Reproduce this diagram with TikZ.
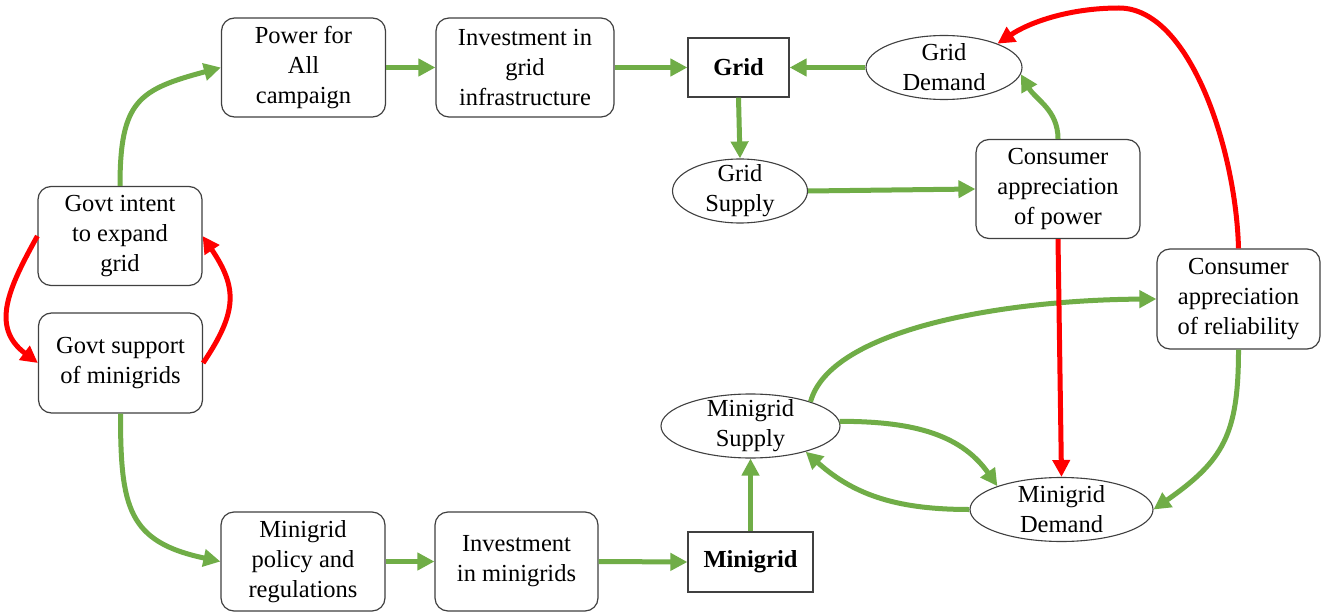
\documentclass[tikz,border=0pt]{standalone}
\usepackage{fontspec}
\setmainfont{Liberation Serif}
\newfontfamily\tnr{Liberation Serif}
\usetikzlibrary{arrows.meta,shapes.geometric}
\definecolor{grn}{HTML}{70AD47}
\definecolor{rd}{HTML}{FF0000}
\definecolor{bord}{HTML}{404040}
\begin{document}
\begin{tikzpicture}[x=1pt,y=-1pt,
  txt/.style={font=\tnr\fontsize{24.5}{30}\selectfont, align=center, inner sep=0pt},
  rbox/.style={txt, draw=bord, line width=1.2pt, rounded corners=13pt, minimum width=164pt, minimum height=99pt},
  sqbox/.style={txt, draw=bord, line width=1.2pt, minimum height=60pt},
  ell/.style={draw=bord, line width=1.1pt, ellipse, minimum height=64pt, inner sep=0pt},
  ga/.style={draw=grn, line width=5pt, -{Triangle[length=17pt,width=17pt]}},
  ra/.style={draw=rd, line width=5pt, -{Triangle[length=17pt,width=17pt]}},
]
\fill[white] (0,0) rectangle (1321,612);
\useasboundingbox (0,0) rectangle (1321,612);

% nodes
\node[rbox] (pfa) at (303.5,67.5) {Power for\\All\\campaign};
\node[rbox, minimum width=178pt] (igi) at (525,67.5) {Investment in\\grid\\infrastructure};
\node[sqbox, minimum width=101pt, minimum height=59pt] (grid) at (738.5,67.5) {\textbf{Grid}};
\node[ell, minimum width=156pt] (gd) at (944,67.5) {};
\node[txt] (gdt) at (gd) {Grid\\Demand};
\node[ell, minimum width=135pt] (gsup) at (740,191) {};
\node[txt] (gsupt) at (gsup) {Grid\\Supply};
\node[rbox] (cap) at (1058,189) {Consumer\\appreciation\\of power};
\node[rbox, minimum width=163pt, minimum height=100pt] (car) at (1238.5,299) {Consumer\\appreciation\\of reliability};
\node[rbox] (gi) at (120,236) {Govt intent\\to expand\\grid};
\node[rbox, minimum height=100pt] (gs) at (120.5,363) {Govt support\\of minigrids};
\node[rbox] (mpr) at (303,561.5) {Minigrid\\policy and\\regulations};
\node[rbox, minimum width=163pt] (im) at (516.5,561.5) {Investment\\in minigrids};
\node[sqbox, minimum width=125pt] (mg) at (750.5,562) {\textbf{Minigrid}};
\node[ell, minimum width=179pt] (msup) at (750.5,426) {};
\node[txt] (msupt) at (msup) {Minigrid\\Supply};
\node[ell, minimum width=183pt] (mdem) at (1061.5,509.5) {};
\node[txt] (mdemt) at (mdem) {Minigrid\\Demand};

% green connectors
\draw[ga] (gi.north) to[out=90,in=195,looseness=1.4] (pfa.west);
\draw[ga] (pfa.east) -- (igi.west);
\draw[ga] (igi.east) -- (grid.west);
\draw[ga] (gd.west) -- (grid.east);
\draw[ga] (grid.south) -- (gsup.north);
\draw[ga] (gsup.east) -- (cap.west);
\draw[ga] (cap.north) to[out=90,in=-60] (gd.-5);
\draw[ga] (msup.22) .. controls (830,330) and (1000,300) .. (car.west);
\draw[ga] (msup.3) to[out=0,in=125] (mdem.160);
\draw[ga] (mdem.west) to[out=180,in=-42] (msup.-25);
\draw[ga] (car.south) to[out=-90,in=35,looseness=1.2] (mdem.east);
\draw[ga] (mg.north) -- (msup.south);
\draw[ga] (im.east) -- (mg.west);
\draw[ga] (mpr.east) -- (im.west);
\draw[ga] (gs.south) to[out=-90,in=168,looseness=1.35] (mpr.west);

% red connectors
\draw[ra] (gi.west) to[out=241,in=143,looseness=1.2] (gs.west);
\draw[ra] (gs.east) to[out=56,in=-56,looseness=1.25] (gi.east);
\draw[ra] (cap.south) -- (mdem.north);
\draw[ra] (car.north) .. controls (1236,150) and (1190,8) .. (1119,8) .. controls (1070,8) and (1030,22) .. (gd.24);
\end{tikzpicture}
\end{document}
